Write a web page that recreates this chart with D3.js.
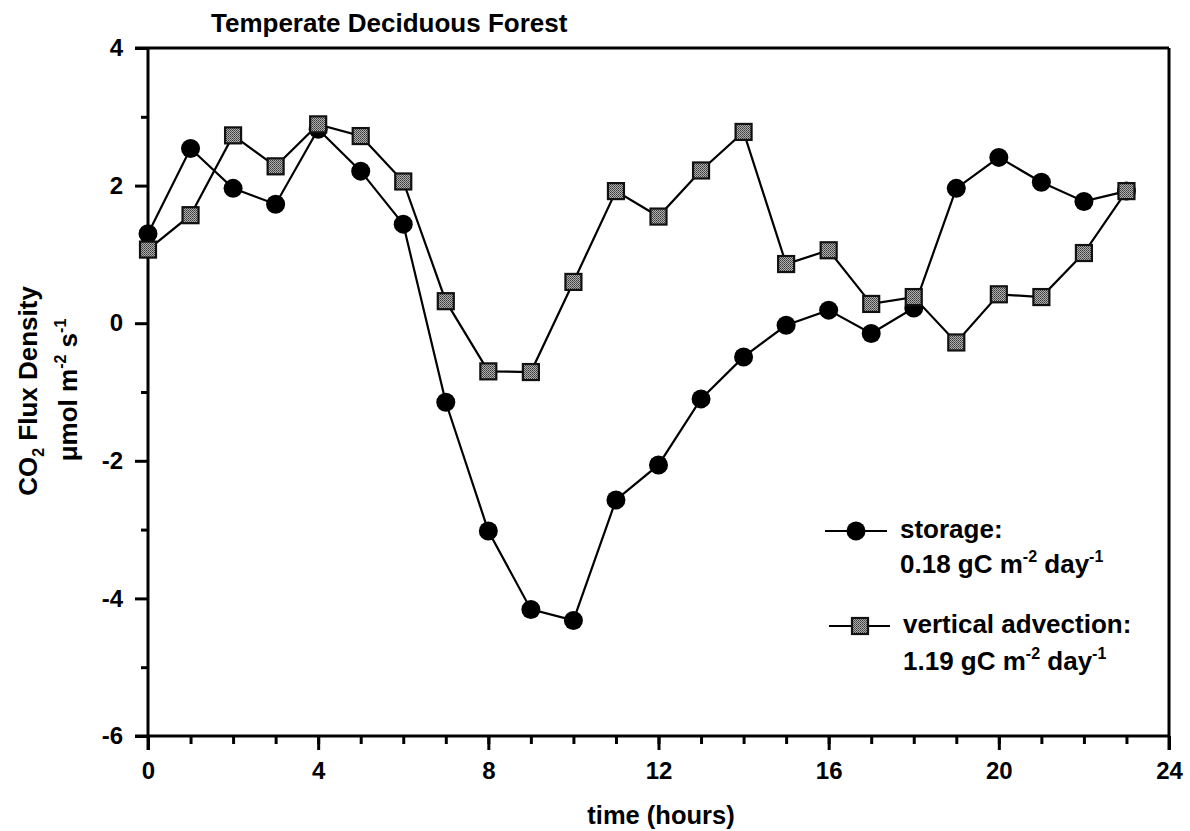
<!DOCTYPE html>
<html>
<head>
<meta charset="utf-8">
<script src="https://cdn.jsdelivr.net/npm/d3@7"></script>
<style>
  html, body { margin: 0; padding: 0; background: #fff; }
  svg { display: block; font-family: "Liberation Sans", Arial, Helvetica, sans-serif; font-weight: bold; }
</style>
</head>
<body>
<svg id="chart" width="1190" height="831"></svg>
<script>
// Hourly CO2 flux components, temperate deciduous forest
const hours = d3.range(0, 24);
const storage = [1.30, 2.54, 1.96, 1.73, 2.82, 2.21, 1.44, -1.15, -3.02, -4.16,
                 -4.32, -2.57, -2.06, -1.10, -0.49, -0.03, 0.19, -0.15, 0.22, 1.96,
                 2.41, 2.05, 1.77, 1.92];
const advection = [1.07, 1.57, 2.73, 2.28, 2.89, 2.72, 2.06, 0.32, -0.70, -0.71,
                   0.60, 1.92, 1.55, 2.22, 2.78, 0.86, 1.06, 0.28, 0.38, -0.28,
                   0.42, 0.38, 1.02, 1.92];
const xMajorTicks = [0, 4, 8, 12, 16, 20, 24];
const xMinorTicks = d3.range(0, 25);
const yMajorTicks = [-6, -4, -2, 0, 2, 4];
const yMinorTicks = [-5, -3, -1, 1, 3];

const svg = d3.select("#chart");
const plotLeft = 148, plotRight = 1169, plotTop = 48, plotBottom = 736;

const x = d3.scaleLinear().domain([0, 24]).range([plotLeft, plotRight]);
const y = d3.scaleLinear().domain([-6, 4]).range([plotBottom, plotTop]);

// stippled gray fill for the square markers
const defs = svg.append("defs");
const pat = defs.append("pattern")
  .attr("id", "stipple").attr("patternUnits", "userSpaceOnUse")
  .attr("width", 2).attr("height", 2);
pat.append("rect").attr("width", 2).attr("height", 2).attr("fill", "#b0b0b0");
pat.append("rect").attr("x", 0).attr("y", 0).attr("width", 1).attr("height", 1).attr("fill", "#3a3a3a");
pat.append("rect").attr("x", 1).attr("y", 1).attr("width", 1).attr("height", 1).attr("fill", "#555");

// frame: top and right edges
svg.append("line").attr("x1", plotLeft - 13).attr("x2", plotRight).attr("y1", plotTop).attr("y2", plotTop)
  .attr("stroke", "#000").attr("stroke-width", 3);
svg.append("line").attr("x1", plotRight).attr("x2", plotRight).attr("y1", plotTop).attr("y2", plotBottom + 14)
  .attr("stroke", "#000").attr("stroke-width", 3);

// axes
const hyphen = d => String(d).replace("\u2212", "-");
const xAxisMinor = d3.axisBottom(x).tickValues(xMinorTicks).tickSize(8).tickFormat("");
const xAxis = d3.axisBottom(x).tickValues(xMajorTicks).tickSize(14).tickPadding(12).tickFormat(hyphen);
const yAxisMinor = d3.axisLeft(y).tickValues(yMinorTicks).tickSize(7).tickFormat("");
const yAxis = d3.axisLeft(y).tickValues(yMajorTicks).tickSize(13).tickPadding(12).tickFormat(hyphen);

function styleAxis(g) {
  g.select(".domain").attr("stroke", "#000").attr("stroke-width", 3);
  g.selectAll(".tick line").attr("stroke", "#000").attr("stroke-width", 3);
  g.selectAll(".tick text").attr("fill", "#000")
    .style("font-size", "24px").style("font-weight", "bold")
    .style("font-family", "'Liberation Sans', Arial, sans-serif");
}

svg.append("g").attr("transform", `translate(0,${plotBottom})`).call(xAxisMinor).call(styleAxis)
  .select(".domain").remove();
svg.append("g").attr("transform", `translate(0,${plotBottom})`).call(xAxis).call(styleAxis)
  .select(".domain").attr("d", `M${plotLeft - 13},0H${plotRight}`);
svg.append("g").attr("transform", `translate(${plotLeft},0)`).call(yAxisMinor).call(styleAxis)
  .select(".domain").remove();
svg.append("g").attr("transform", `translate(${plotLeft},0)`).call(yAxis).call(styleAxis)
  .select(".domain").attr("d", `M0,${plotTop}V${plotBottom + 14}`);

// series lines
const line = d3.line().x((d, i) => x(hours[i])).y(d => y(d));
svg.append("path").datum(storage).attr("d", line)
  .attr("fill", "none").attr("stroke", "#000").attr("stroke-width", 2.2);
svg.append("path").datum(advection).attr("d", line)
  .attr("fill", "none").attr("stroke", "#000").attr("stroke-width", 2.2);

const sq = 16;
function square(g, cx, cy) {
  g.append("rect").attr("x", cx - sq / 2).attr("y", cy - sq / 2)
    .attr("width", sq).attr("height", sq)
    .attr("fill", "url(#stipple)").attr("stroke", "#111").attr("stroke-width", 2.2);
}
function circle(g, cx, cy) {
  g.append("circle").attr("cx", cx).attr("cy", cy).attr("r", 9.5).attr("fill", "#000");
}

const markers = svg.append("g");
storage.forEach((v, i) => circle(markers, x(hours[i]), y(v)));
advection.forEach((v, i) => square(markers, x(hours[i]), y(v)));

// title
svg.append("text").attr("x", 211).attr("y", 32).style("font-size", "26px")
  .text("Temperate Deciduous Forest");

// x-axis title
svg.append("text").attr("x", 661).attr("y", 824).attr("text-anchor", "middle")
  .style("font-size", "25.5px").text("time (hours)");

// y-axis title (two lines)
const yt1 = svg.append("text").attr("transform", "translate(37,391) rotate(-90)")
  .attr("text-anchor", "middle").style("font-size", "26px");
yt1.append("tspan").text("CO");
yt1.append("tspan").attr("dy", 7).style("font-size", "16px").text("2");
yt1.append("tspan").attr("dy", -7).text(" Flux Density");

const yt2 = svg.append("text").attr("transform", "translate(77,390) rotate(-90)")
  .attr("text-anchor", "middle").style("font-size", "26px");
yt2.append("tspan").text("\u03bcmol m");
yt2.append("tspan").attr("dy", -11).style("font-size", "16px").text("-2");
yt2.append("tspan").attr("dy", 11).text(" s");
yt2.append("tspan").attr("dy", -11).style("font-size", "16px").text("-1");

// legend
const legend = svg.append("g");
function unitLine(g, xx, yy, val) {
  const t = g.append("text").attr("x", xx).attr("y", yy).style("font-size", "26px");
  t.append("tspan").text(val + " gC m");
  t.append("tspan").attr("dy", -11).style("font-size", "16px").text("-2");
  t.append("tspan").attr("dy", 11).text(" day");
  t.append("tspan").attr("dy", -11).style("font-size", "16px").text("-1");
}
legend.append("line").attr("x1", 825).attr("x2", 887).attr("y1", 531).attr("y2", 531)
  .attr("stroke", "#000").attr("stroke-width", 2.2);
circle(legend, 856, 531);
legend.append("text").attr("x", 900).attr("y", 538).style("font-size", "26px").text("storage:");
unitLine(legend, 900, 573, "0.18");

legend.append("line").attr("x1", 829).attr("x2", 890).attr("y1", 626).attr("y2", 626)
  .attr("stroke", "#000").attr("stroke-width", 2.2);
square(legend, 860, 626);
legend.append("text").attr("x", 903).attr("y", 633).style("font-size", "26px").text("vertical advection:");
unitLine(legend, 903, 670, "1.19");
</script>
</body>
</html>
